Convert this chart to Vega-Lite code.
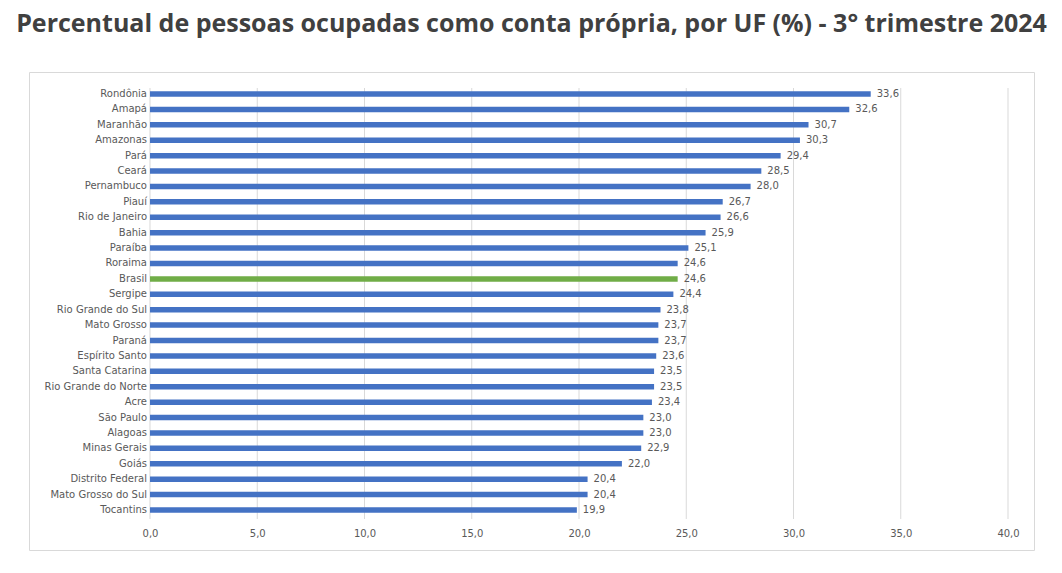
{
  "$schema": "https://vega.github.io/schema/vega-lite/v6.json",
  "autosize": {"type": "none"},
  "width": 1005,
  "height": 478,
  "padding": {"left": 29, "top": 72, "right": 28, "bottom": 23},
  "background": "white",
  "title": {
    "text": "Percentual de pessoas ocupadas como conta própria, por UF (%) - 3° trimestre 2024",
    "anchor": "middle",
    "font": "Open Sans",
    "fontSize": 25,
    "fontWeight": "bold",
    "color": "#404040",
    "offset": 35
  },
  "config": {
    "view": {"stroke": "#d9d9d9", "strokeWidth": 1},
    "locale": {"number": {"decimal": ",", "thousands": ".", "grouping": [3], "currency": ["R$", ""]}}
  },
  "datasets": {
    "ufs": [
      {"uf": "Rondônia", "valor": 33.6, "tipo": "UF"},
      {"uf": "Amapá", "valor": 32.6, "tipo": "UF"},
      {"uf": "Maranhão", "valor": 30.7, "tipo": "UF"},
      {"uf": "Amazonas", "valor": 30.3, "tipo": "UF"},
      {"uf": "Pará", "valor": 29.4, "tipo": "UF"},
      {"uf": "Ceará", "valor": 28.5, "tipo": "UF"},
      {"uf": "Pernambuco", "valor": 28.0, "tipo": "UF"},
      {"uf": "Piauí", "valor": 26.7, "tipo": "UF"},
      {"uf": "Rio de Janeiro", "valor": 26.6, "tipo": "UF"},
      {"uf": "Bahia", "valor": 25.9, "tipo": "UF"},
      {"uf": "Paraíba", "valor": 25.1, "tipo": "UF"},
      {"uf": "Roraima", "valor": 24.6, "tipo": "UF"},
      {"uf": "Brasil", "valor": 24.6, "tipo": "Brasil"},
      {"uf": "Sergipe", "valor": 24.4, "tipo": "UF"},
      {"uf": "Rio Grande do Sul", "valor": 23.8, "tipo": "UF"},
      {"uf": "Mato Grosso", "valor": 23.7, "tipo": "UF"},
      {"uf": "Paraná", "valor": 23.7, "tipo": "UF"},
      {"uf": "Espírito Santo", "valor": 23.6, "tipo": "UF"},
      {"uf": "Santa Catarina", "valor": 23.5, "tipo": "UF"},
      {"uf": "Rio Grande do Norte", "valor": 23.5, "tipo": "UF"},
      {"uf": "Acre", "valor": 23.4, "tipo": "UF"},
      {"uf": "São Paulo", "valor": 23.0, "tipo": "UF"},
      {"uf": "Alagoas", "valor": 23.0, "tipo": "UF"},
      {"uf": "Minas Gerais", "valor": 22.9, "tipo": "UF"},
      {"uf": "Goiás", "valor": 22.0, "tipo": "UF"},
      {"uf": "Distrito Federal", "valor": 20.4, "tipo": "UF"},
      {"uf": "Mato Grosso do Sul", "valor": 20.4, "tipo": "UF"},
      {"uf": "Tocantins", "valor": 19.9, "tipo": "UF"}
    ],
    "grade": [
      {"g": 0}, {"g": 5}, {"g": 10}, {"g": 15}, {"g": 20},
      {"g": 25}, {"g": 30}, {"g": 35}, {"g": 40}
    ]
  },
  "layer": [
    {
      "data": {"name": "grade"},
      "mark": {"type": "rule", "color": "#d9d9d9", "strokeWidth": 1, "yOffset": -6, "y2Offset": 9},
      "encoding": {
        "x": {"field": "g", "type": "quantitative"},
        "y": {"datum": "Rondônia", "type": "nominal"},
        "y2": {"datum": "Tocantins"}
      }
    },
    {
      "data": {"name": "ufs"},
      "mark": {"type": "bar"},
      "encoding": {
        "x": {"field": "valor", "type": "quantitative"},
        "color": {
          "field": "tipo", "type": "nominal",
          "scale": {"domain": ["UF", "Brasil"], "range": ["#4472C4", "#70AD47"]},
          "legend": null
        }
      }
    },
    {
      "data": {"name": "ufs"},
      "mark": {"type": "text", "align": "left", "baseline": "middle", "dx": 6, "font": "DejaVu Sans", "fontSize": 10, "color": "#595959"},
      "encoding": {
        "x": {"field": "valor", "type": "quantitative"},
        "text": {"field": "valor", "type": "quantitative", "format": ",.1f"}
      }
    },
    {
      "data": {"name": "ufs"},
      "mark": {"type": "text", "align": "right", "baseline": "middle", "dx": -3, "font": "DejaVu Sans", "fontSize": 10, "color": "#595959"},
      "encoding": {
        "x": {"datum": 0, "type": "quantitative"},
        "text": {"field": "uf", "type": "nominal"}
      }
    }
  ],
  "encoding": {
    "y": {
      "field": "uf", "type": "nominal", "sort": null,
      "scale": {
        "domain": ["Rondônia","Amapá","Maranhão","Amazonas","Pará","Ceará","Pernambuco","Piauí","Rio de Janeiro","Bahia","Paraíba","Roraima","Brasil","Sergipe","Rio Grande do Sul","Mato Grosso","Paraná","Espírito Santo","Santa Catarina","Rio Grande do Norte","Acre","São Paulo","Alagoas","Minas Gerais","Goiás","Distrito Federal","Mato Grosso do Sul","Tocantins"],
        "range": [19.25, 440.75],
        "paddingInner": 0.643, "paddingOuter": 0
      },
      "axis": null
    },
    "x": {
      "type": "quantitative",
      "scale": {"domain": [-5.641, 41.212], "nice": false, "zero": false},
      "axis": {
        "values": [0, 5, 10, 15, 20, 25, 30, 35, 40],
        "format": ",.1f",
        "title": null,
        "domain": false,
        "ticks": false,
        "grid": false,
        "offset": -17,
        "labelPadding": 0,
        "labelBaseline": "middle",
        "labelFont": "DejaVu Sans",
        "labelFontSize": 10,
        "labelColor": "#595959"
      }
    }
  }
}
